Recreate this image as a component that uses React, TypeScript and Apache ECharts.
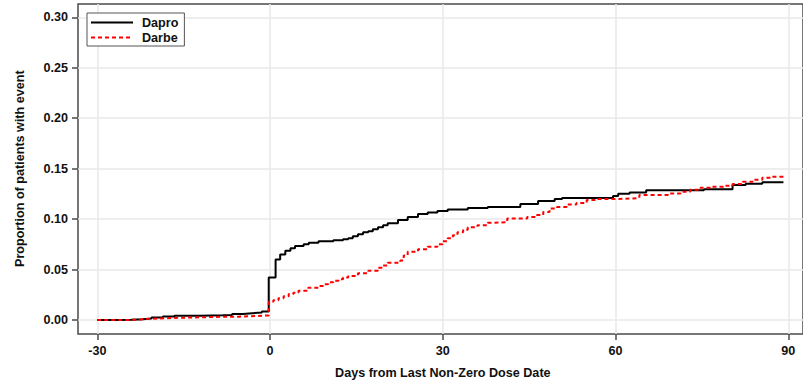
import React, { useEffect, useRef } from "react";
import * as echarts from "echarts";

// Cumulative proportion of patients with an event, by day relative to the last non-zero dose.
// Each entry is the day at which the curve steps to the paired proportion.
const DAPRO_DAYS = [
  -30, -26, -24, -22, -20.5, -18.5, -16.5, -12, -8, -6.4, -4.5, -2.9, -1.2,
  0, 1.2, 2.0, 2.9, 3.8, 4.6, 6.1, 7.0, 8.7, 11.3, 13.0, 13.9, 14.7, 15.6,
  16.5, 17.4, 18.2, 19.1, 20.0, 20.8, 22.6, 24.3, 26.1, 27.8, 29.5, 31.3,
  34.8, 38.3, 44.0, 47.1, 50.0, 51.3, 60.2, 61.1, 63.1, 66.0, 76.1, 81.1,
  83.4, 86.3, 90,
];
const DAPRO_PROP = [
  0, 0.0003, 0.0008, 0.0015, 0.0025, 0.0035, 0.0043, 0.0047, 0.005, 0.006,
  0.0067, 0.0073, 0.0085, 0.042, 0.06, 0.065, 0.0686, 0.071, 0.0733, 0.075,
  0.0766, 0.078, 0.079, 0.08, 0.081, 0.083, 0.085, 0.087, 0.088, 0.09, 0.092,
  0.094, 0.096, 0.099, 0.102, 0.105, 0.1066, 0.108, 0.1096, 0.111, 0.112,
  0.1149, 0.118, 0.1198, 0.121, 0.123, 0.125, 0.1264, 0.1287, 0.1297, 0.1337,
  0.135, 0.1366, 0.1366,
];

const DARBE_DAYS = [
  -30, -24.3, -22.5, -21.4, -18, -15.6, -12, -9.9, -5.2, -2, 0, 0.8, 1.7, 2.6,
  3.5, 4.3, 5.2, 6.9, 8.7, 9.5, 10.4, 11.3, 12.2, 13.0, 13.9, 15.6, 17.4,
  19.1, 20.0, 20.8, 23.0, 23.6, 24.3, 26.1, 27.8, 29.5, 30.4, 31.3, 32.2,
  33.0, 34.0, 34.8, 36.5, 38.3, 39.5, 41.7, 45.2, 46.9, 48.0, 49.1, 50.4,
  52.1, 53.8, 55.6, 57.3, 60.2, 63.7, 64.8, 66.0, 69.8, 72.0, 73.7, 75.5,
  77.2, 79.5, 81.1, 82.9, 84.6, 86.3, 88.0, 90,
];
const DARBE_PROP = [
  0, 0.0005, 0.001, 0.0017, 0.0022, 0.0026, 0.003, 0.0033, 0.004, 0.0045,
  0.018, 0.0195, 0.0215, 0.0235, 0.0257, 0.027, 0.029, 0.032, 0.0337, 0.0355,
  0.0373, 0.039, 0.0403, 0.042, 0.0436, 0.0462, 0.0488, 0.0518, 0.054,
  0.0567, 0.059, 0.064, 0.0676, 0.07, 0.0726, 0.075, 0.078, 0.081, 0.084,
  0.087, 0.0895, 0.092, 0.094, 0.0963, 0.097, 0.1007, 0.102, 0.104, 0.107,
  0.1106, 0.112, 0.1145, 0.116, 0.1188, 0.1198, 0.1205, 0.121, 0.1238, 0.124,
  0.1254, 0.127, 0.129, 0.131, 0.132, 0.133, 0.1347, 0.137, 0.139, 0.141,
  0.142, 0.1426,
];

const X_TICKS = [-30, 0, 30, 60, 90];
const Y_TICKS = [0, 0.05, 0.1, 0.15, 0.2, 0.25, 0.3];

const FONT = '"Liberation Sans", Arial, Helvetica, sans-serif';
const AXIS_COLOR = "#4a4a4a";
const GRID_COLOR = "#e8e8e8";

const pairs = (xs: number[], ys: number[]) => xs.map((x, i) => [x, ys[i]]);

export default function App() {
  const ref = useRef<HTMLDivElement>(null);

  useEffect(() => {
    if (!ref.current) return;
    const chart = echarts.init(ref.current, null, { renderer: "svg" });

    const labelStyle = {
      fontFamily: FONT,
      fontWeight: "bold" as const,
      fontSize: 12.6,
      color: "#111",
    };
    const tick = { show: true, length: 6, lineStyle: { color: AXIS_COLOR, width: 1.5 } };
    const split = { show: true, lineStyle: { color: GRID_COLOR, width: 1.5 } };

    chart.setOption({
      animation: false,
      backgroundColor: "#fff",
      grid: [
        // plotting area with its frame (right edge runs past the page)
        {
          left: 78,
          right: -5,
          top: 4,
          bottom: 50,
          show: true,
          borderColor: AXIS_COLOR,
          borderWidth: 1.5,
          backgroundColor: "transparent",
        },
        // horizontal extent of the day ticks
        { left: 97.3, right: 14.7, top: 4, bottom: 50 },
        // vertical extent of the proportion ticks
        { left: 78, right: -5, top: 17.3, bottom: 64 },
      ],
      xAxis: [
        { gridIndex: 0, type: "value", min: -33.35, max: 93.42, show: false },
        {
          gridIndex: 1,
          type: "value",
          min: X_TICKS[0],
          max: X_TICKS[X_TICKS.length - 1],
          interval: 30,
          axisLine: { show: false },
          axisTick: tick,
          axisLabel: { ...labelStyle, margin: 10 },
          splitLine: split,
          name: "Days from Last Non-Zero Dose Date",
          nameLocation: "middle",
          nameGap: 32,
          nameTextStyle: labelStyle,
        },
        { gridIndex: 2, type: "value", show: false },
      ],
      yAxis: [
        { gridIndex: 0, type: "value", min: -0.0139, max: 0.3132, show: false },
        { gridIndex: 1, type: "value", show: false },
        {
          gridIndex: 2,
          type: "value",
          min: Y_TICKS[0],
          max: Y_TICKS[Y_TICKS.length - 1],
          interval: 0.05,
          axisLine: { show: false },
          axisTick: tick,
          axisLabel: {
            ...labelStyle,
            margin: 10,
            formatter: (v: number) => v.toFixed(2),
          },
          splitLine: split,
          name: "Proportion of patients with event",
          nameLocation: "middle",
          nameGap: 52,
          nameTextStyle: labelStyle,
        },
      ],
      legend: {
        orient: "vertical",
        left: 87,
        top: 13,
        padding: [3, 6, 2, 3],
        itemGap: 2,
        itemWidth: 42,
        itemHeight: 12,
        borderColor: "#555",
        borderWidth: 1,
        backgroundColor: "#fff",
        itemStyle: { opacity: 0, borderWidth: 0 },
        textStyle: { ...labelStyle, padding: [0, 0, 0, 4] },
        data: ["Dapro", "Darbe"],
      },
      series: [
        {
          name: "Dapro",
          type: "line",
          xAxisIndex: 0,
          yAxisIndex: 0,
          step: "end",
          symbol: "none",
          data: pairs(DAPRO_DAYS, DAPRO_PROP),
          lineStyle: { color: "#000", width: 2 },
          itemStyle: { color: "#000" },
          z: 3,
        },
        {
          name: "Darbe",
          type: "line",
          xAxisIndex: 0,
          yAxisIndex: 0,
          step: "end",
          symbol: "none",
          data: pairs(DARBE_DAYS, DARBE_PROP),
          lineStyle: { color: "#ff0000", width: 2, type: [4, 3] },
          itemStyle: { color: "#ff0000" },
          z: 4,
        },
      ],
    });

    return () => chart.dispose();
  }, []);

  return (
    <div
      ref={ref}
      style={{ position: "fixed", left: 0, top: 0, width: 803, height: 384 }}
    />
  );
}
